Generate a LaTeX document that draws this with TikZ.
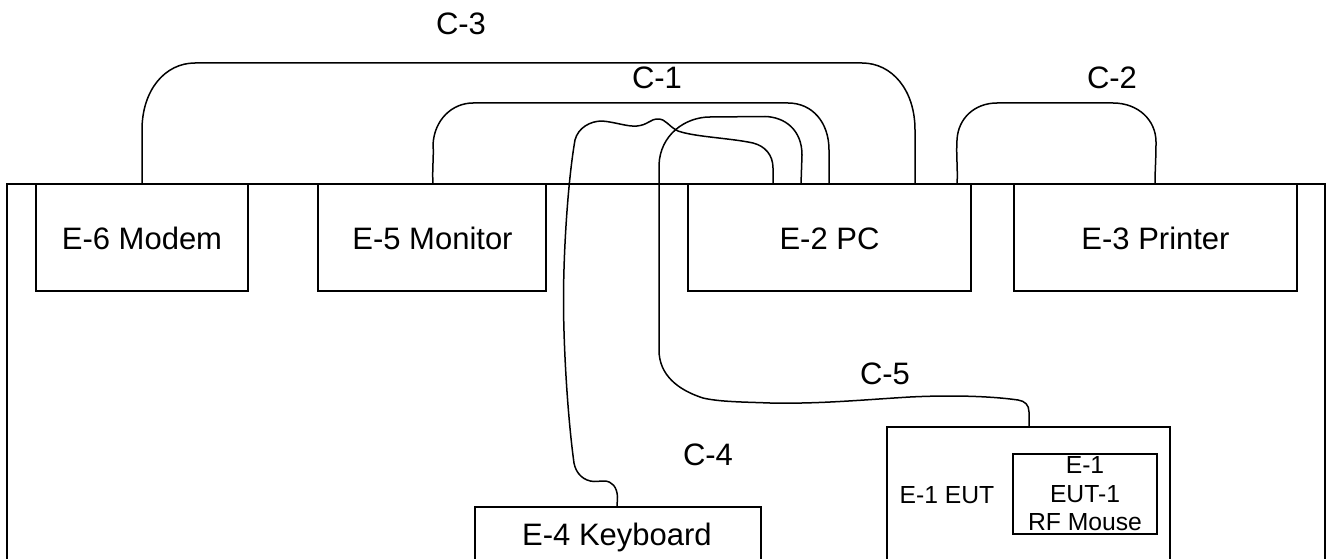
\documentclass[tikz,border=0pt]{standalone}
\usepackage{fontspec}
\setmainfont{Liberation Sans}
\tikzset{
  devbox/.style={draw=black,line width=1.5pt,rectangle,inner sep=0pt},
  biglabel/.style={inner sep=0pt,anchor=base,font=\fontsize{31}{34}\selectfont},
  smalllabel/.style={inner sep=0pt,font=\fontsize{24.7}{28.5}\selectfont,align=center},
  cable/.style={draw=black,line width=1.5pt,line join=round}
}
\begin{document}
\begin{tikzpicture}[x=1pt,y=-1pt]
\useasboundingbox (0,0) rectangle (1333,559);
% outer room, open at the bottom of the page
\coordinate (roomBL) at (7,570);
\coordinate (roomTL) at (7,184);
\coordinate (roomTR) at (1325,184);
\coordinate (roomBR) at (1325,570);
\draw[line width=1.5pt] (roomBL) -- (roomTL) -- (roomTR) -- (roomBR);
% devices
\node[devbox,minimum width=212pt,minimum height=107pt] (modem) at (142,237.5) {};
\node[biglabel] (modemtext) at (142,249) {E-6 Modem};
\node[devbox,minimum width=228pt,minimum height=107pt] (monitor) at (432,237.5) {};
\node[biglabel] (monitortext) at (432.5,249) {E-5 Monitor};
\node[devbox,minimum width=283pt,minimum height=107pt] (pc) at (829.5,237.5) {};
\node[biglabel] (pctext) at (829.5,249) {E-2 PC};
\node[devbox,minimum width=283pt,minimum height=107pt] (printer) at (1155.5,237.5) {};
\node[biglabel] (printertext) at (1155.5,249) {E-3 Printer};
\node[devbox,minimum width=286pt,minimum height=83pt] (keyboard) at (618,548.5) {};
\node[biglabel] (keyboardtext) at (617,545.6) {E-4 Keyboard};
\node[devbox,minimum width=283pt,minimum height=163pt] (eut) at (1028.5,508.5) {};
\node[smalllabel,anchor=base] (euttext) at (947,503.5) {E-1 EUT};
\node[devbox,minimum width=144pt,minimum height=80pt] (mouse) at (1085,494) {};
\node[smalllabel] (mousetext) at (1085,494) {E-1\\EUT-1\\RF Mouse};
% cable labels
\node[biglabel] (c3) at (461,34.5) {C-3};
\node[biglabel] (c1) at (657,88.3) {C-1};
\node[biglabel] (c2) at (1112,88.3) {C-2};
\node[biglabel] (c5) at (885,384) {C-5};
\node[biglabel] (c4) at (708,465) {C-4};
% ports
\coordinate (modemP) at (142,184);
\coordinate (pcP3) at (915,184);
\coordinate (monitorP) at (433,184);
\coordinate (pcP1) at (829,184);
\coordinate (pcP2) at (957,184);
\coordinate (printerP) at (1155,184);
\coordinate (kbP) at (617,507);
\coordinate (pcP4) at (773,184);
\coordinate (eutP) at (1029,427);
\coordinate (pcP5) at (801,184);
% C-3
\draw[cable] (modemP) -- (142,130) .. controls (142,90) and (165,63) .. (195,63) -- (862,63)
  .. controls (892,63) and (915,90) .. (915,130) -- (pcP3);
% C-1
\draw[cable] (monitorP) .. controls (432,170) and (434,155) .. (433,145)
  .. controls (434,120) and (452,103) .. (473,103) -- (788,103)
  .. controls (812,103) and (829,122) .. (829,150) -- (pcP1);
% C-2
\draw[cable] (pcP2) .. controls (958,170) and (956,155) .. (957,140)
  .. controls (958,118) and (975,103) .. (997,103) -- (1113,103)
  .. controls (1138,103) and (1156,120) .. (1156,142)
  .. controls (1156,160) and (1155,170) .. (printerP);
% C-4
\draw[cable] (kbP) -- (617.5,497) .. controls (617,487) and (612,481) .. (604,481)
  -- (594,481.5) .. controls (584,481) and (576,474) .. (574,463)
  .. controls (568,420) and (563.5,350) .. (563.5,300)
  .. controls (563.5,250) and (568,180) .. (575,140)
  .. controls (578,128) and (590,121) .. (602,121)
  .. controls (615,122) and (628,127) .. (637,126)
  .. controls (648,125) and (650,119) .. (658,119)
  .. controls (666,119) and (668,126) .. (678,131)
  .. controls (695,137) and (730,138) .. (753,143)
  .. controls (765,146) and (773,155) .. (773,168) -- (pcP4);
% C-5
\draw[cable] (eutP) -- (1029,412) .. controls (1029,405) and (1025,401) .. (1018,400)
  .. controls (990,396) and (950,395) .. (910,397)
  .. controls (860,400) and (820,404) .. (770,403)
  .. controls (745,402) and (720,402) .. (703,398)
  .. controls (678,390) and (659,375) .. (659,350)
  -- (659,165) .. controls (660,135) and (685,117) .. (710,117)
  -- (765,116.5) .. controls (785,117) and (802,130) .. (802,155) -- (pcP5);
\end{tikzpicture}
\end{document}
